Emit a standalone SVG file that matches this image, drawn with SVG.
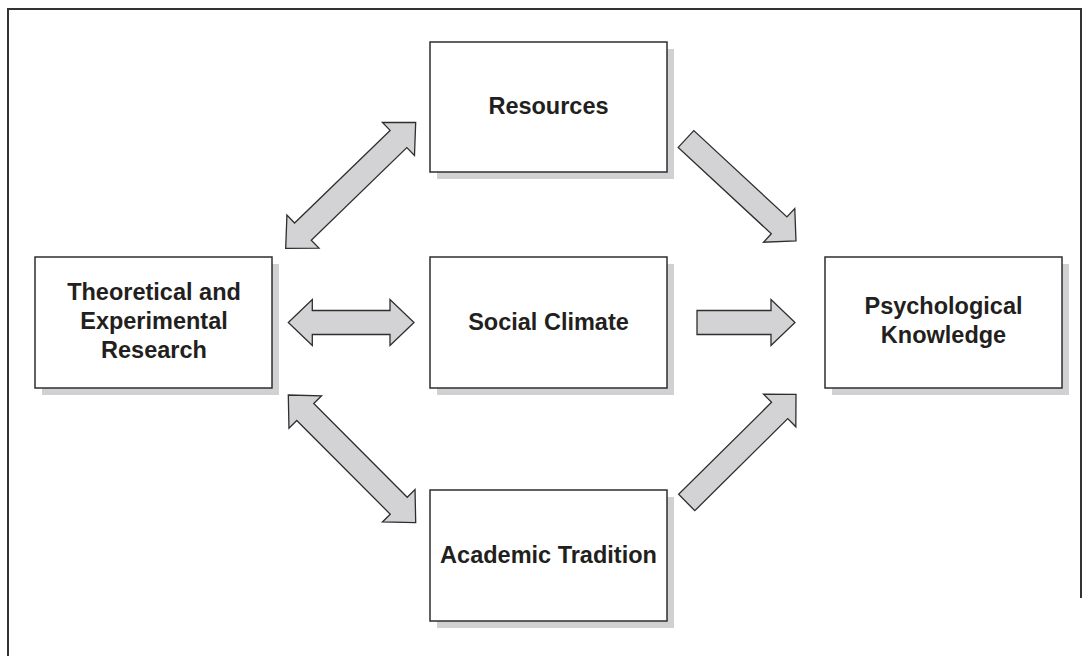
<svg xmlns="http://www.w3.org/2000/svg" width="1091" height="656" viewBox="0 0 1091 656">
<style>
.shadow{fill:#d1d1d3;stroke:none}
.box{fill:#ffffff;stroke:#2e2e2e;stroke-width:1.5}
.lbl{font-family:"Liberation Sans",Arial,Helvetica,sans-serif;font-weight:bold;font-size:23.5px;fill:#231f20;text-anchor:middle}
.arr{fill:#d3d3d5;stroke:#2e2e2e;stroke-width:1.3;stroke-linejoin:miter}
.frame{fill:none;stroke:#333;stroke-width:2}
</style>
<rect width="1091" height="656" fill="#ffffff"/>
<path class="frame" d="M8,656 V9 H1081 V598"/>
<g id="connectors">
<polygon class="arr" points="415.7,122.3 414.48,155.52 406.82,147.62 311.28,240.22 318.94,248.12 285.7,248.3 286.92,215.08 294.58,222.98 390.12,130.38 382.46,122.48"/>
<polygon class="arr" points="414,322.5 390,345.5 390,334.5 312.3,334.5 312.3,345.5 288.3,322.5 312.3,299.5 312.3,310.5 390,310.5 390,299.5"/>
<polygon class="arr" points="415.7,522.7 382.47,521.95 390.25,514.19 296.75,420.47 288.97,428.23 288.3,395 321.53,395.75 313.75,403.51 407.25,497.23 415.03,489.47"/>
<polygon class="arr" points="796,241 794.77,208.49 786.95,216.93 693.82,130.57 678.18,147.43 771.31,233.79 763.49,242.23"/>
<polygon class="arr" points="697,310.5 771,310.5 771,299.5 795,322.5 771,345.5 771,334.5 697,334.5"/>
<polygon class="arr" points="796,394.3 795.83,426.83 787.74,418.65 694.79,510.67 678.61,494.33 771.56,402.31 763.47,394.13"/>
</g>
<g id="resources">
<rect class="shadow" x="437" y="49" width="237" height="130"/>
<rect class="box" x="430" y="42" width="237" height="130"/>
<text class="lbl" x="548.5" y="114">Resources</text>
</g>
<g id="theoretical">
<rect class="shadow" x="42" y="264" width="237" height="131"/>
<rect class="box" x="35" y="257" width="237" height="131"/>
<text class="lbl" x="154" y="300">Theoretical and</text>
<text class="lbl" x="154" y="329">Experimental</text>
<text class="lbl" x="154" y="358">Research</text>
</g>
<g id="social">
<rect class="shadow" x="437" y="264" width="237" height="131"/>
<rect class="box" x="430" y="257" width="237" height="131"/>
<text class="lbl" x="548.5" y="330">Social Climate</text>
</g>
<g id="psych">
<rect class="shadow" x="832" y="264" width="237" height="131"/>
<rect class="box" x="825" y="257" width="237" height="131"/>
<text class="lbl" x="943.5" y="314">Psychological</text>
<text class="lbl" x="943.5" y="343">Knowledge</text>
</g>
<g id="academic">
<rect class="shadow" x="437" y="497" width="237" height="131"/>
<rect class="box" x="430" y="490" width="237" height="131"/>
<text class="lbl" x="548.5" y="563">Academic Tradition</text>
</g>
</svg>
